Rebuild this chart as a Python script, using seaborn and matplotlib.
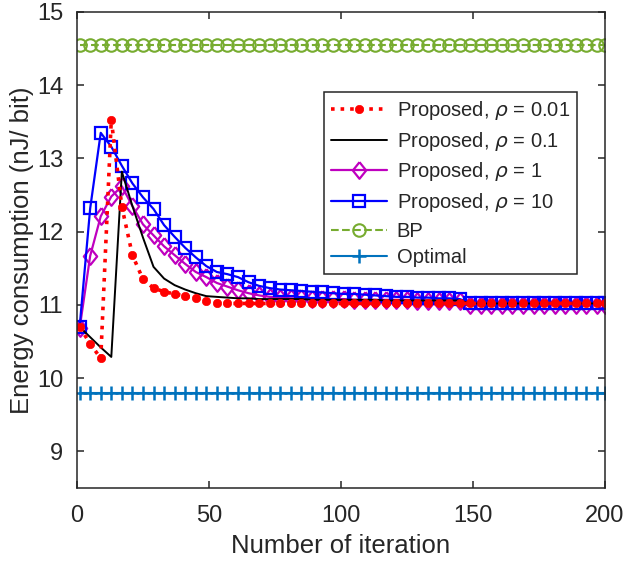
import numpy as np
import pandas as pd
import matplotlib
matplotlib.use("Agg")
import matplotlib.pyplot as plt
import seaborn as sns

# ---------------- data ----------------
iterations = list(range(1, 198, 4)) + [200]   # 51 sample points

rho_001 = [10.70, 10.47, 10.27, 13.53, 12.34, 11.68, 11.35, 11.23, 11.18, 11.15,
           11.12, 11.09, 11.06, 11.03, 11.02, 11.02, 11.02, 11.02, 11.02, 11.02,
           11.02, 11.02, 11.02, 11.02, 11.02, 11.02, 11.02, 11.02, 11.02, 11.02,
           11.02, 11.02, 11.02, 11.02, 11.02, 11.02, 11.02, 11.02, 11.02, 11.02,
           11.02, 11.02, 11.02, 11.02, 11.02, 11.02, 11.02, 11.02, 11.02, 11.02,
           11.02]
rho_01 = [10.70, 10.56, 10.42, 10.29, 12.82, 12.35, 11.92, 11.52, 11.36, 11.27,
          11.21, 11.16, 11.12, 11.11, 11.10, 11.09, 11.09, 11.08, 11.08, 11.08,
          11.08, 11.08, 11.07, 11.07, 11.07, 11.07, 11.07, 11.07, 11.07, 11.06,
          11.06, 11.06, 11.06, 11.06, 11.06, 11.06, 11.06, 11.02, 11.02, 11.02,
          11.02, 11.02, 11.02, 11.02, 11.02, 11.02, 11.02, 11.02, 11.02, 11.02,
          11.02]
rho_1 = [10.68, 11.67, 12.21, 12.48, 12.62, 12.35, 12.10, 11.95, 11.80, 11.68,
         11.56, 11.45, 11.38, 11.30, 11.25, 11.20, 11.16, 11.13, 11.11, 11.10,
         11.09, 11.09, 11.08, 11.08, 11.08, 11.08, 11.07, 11.07, 11.07, 11.07,
         11.07, 11.07, 11.06, 11.06, 11.06, 11.06, 11.06, 11.00, 11.00, 11.00,
         11.00, 11.00, 11.00, 11.00, 11.00, 11.00, 11.00, 11.00, 11.00, 11.00,
         11.00]
rho_10 = [10.70, 12.32, 13.35, 13.16, 12.90, 12.66, 12.47, 12.31, 12.09, 11.93,
          11.78, 11.65, 11.53, 11.45, 11.42, 11.38, 11.31, 11.26, 11.23, 11.21,
          11.20, 11.19, 11.18, 11.17, 11.16, 11.15, 11.15, 11.14, 11.13, 11.12,
          11.11, 11.11, 11.10, 11.10, 11.09, 11.09, 11.08, 11.03, 11.03, 11.03,
          11.03, 11.03, 11.03, 11.03, 11.03, 11.03, 11.03, 11.03, 11.03, 11.03,
          11.03]
bp_value = 14.55
optimal_value = 9.80

labels = [r"Proposed, $\rho$ = 0.01", r"Proposed, $\rho$ = 0.1",
          r"Proposed, $\rho$ = 1", r"Proposed, $\rho$ = 10", "BP", "Optimal"]
xticks = [0, 50, 100, 150, 200]
yticks = [9, 10, 11, 12, 13, 14, 15]

# ---------------- style ----------------
sns.set_style("ticks")
plt.rcParams["font.family"] = ["Liberation Sans", "DejaVu Sans"]
plt.rcParams["mathtext.fontset"] = "dejavusans"
plt.rcParams["mathtext.it"] = "DejaVu Serif:italic"
dark = "#262626"

fig = plt.figure(figsize=(6.28, 5.63), dpi=100)
ax = fig.add_axes([0.1226, 0.1332, 0.8404, 0.8455])

df = pd.DataFrame({
    "it": iterations,
    "r001": rho_001, "r01": rho_01, "r1": rho_1, "r10": rho_10,
    "bp": [bp_value] * len(iterations),
    "opt": [optimal_value] * len(iterations),
})

diamond = [(0, 1), (0.8, 0), (0, -1), (-0.8, 0), (0, 1)]

h_bp = sns.lineplot(data=df, x="it", y="bp", ax=ax, color="#77AC30", lw=1.5,
                    linestyle="--", marker="o", ms=9, mfc="none", mec="#77AC30",
                    mew=1.5, label=labels[4], legend=False).lines[-1]
h_opt = sns.lineplot(data=df, x="it", y="opt", ax=ax, color="#0072BD", lw=1.5,
                     marker="+", ms=10, mec="#0072BD", mew=1.8,
                     label=labels[5], legend=False).lines[-1]
h_1 = sns.lineplot(data=df, x="it", y="r1", ax=ax, color="#BF00BF", lw=1.6,
                   marker=diamond, ms=12, mfc="none", mec="#BF00BF", mew=1.6,
                   label=labels[2], legend=False).lines[-1]
h_10 = sns.lineplot(data=df, x="it", y="r10", ax=ax, color="#0000FF", lw=1.6,
                    marker="s", ms=9, mfc="none", mec="#0000FF", mew=1.6,
                    label=labels[3], legend=False).lines[-1]
h_01 = sns.lineplot(data=df, x="it", y="r01", ax=ax, color="black", lw=1.4,
                    label=labels[1], legend=False).lines[-1]
h_001 = sns.lineplot(data=df, x="it", y="r001", ax=ax, color="#FF0000", lw=2.6,
                     linestyle=":", marker="o", ms=6, mfc="#FF0000", mec="#FF0000",
                     mew=0.5, label=labels[0], legend=False).lines[-1]

ax.set_xlim(0, 200)
ax.set_ylim(8.5, 15)
ax.set_xticks(xticks)
ax.set_yticks(yticks)
ax.set_xlabel("Number of iteration", fontsize=18.5, color=dark, labelpad=5)
ax.set_ylabel("Energy consumption (nJ/ bit)", fontsize=18.5, color=dark, labelpad=2)
ax.tick_params(axis="x", pad=12)
ax.tick_params(axis="y", pad=10)
ax.tick_params(direction="in", length=5, width=1.1, labelsize=17,
               colors=dark, top=True, right=True)
for s in ax.spines.values():
    s.set_color(dark)
    s.set_linewidth(1.1)
    s.set_visible(True)

leg = ax.legend(handles=[h_001, h_01, h_1, h_10, h_bp, h_opt], labels=labels,
                loc="upper right", bbox_to_anchor=(0.947, 0.832),
                fontsize=14.5, frameon=True, fancybox=False, framealpha=1,
                edgecolor=dark, handlelength=2.75, handletextpad=0.5,
                labelspacing=0.38, borderpad=0.35, borderaxespad=0, numpoints=1)
leg.get_frame().set_linewidth(1.1)

fig.savefig("out.png", dpi=100)
